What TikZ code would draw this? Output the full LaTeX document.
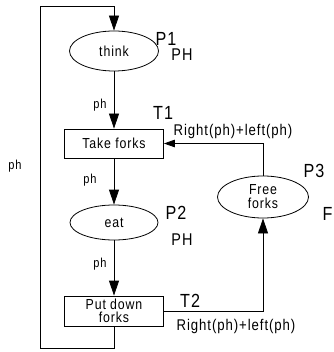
\documentclass[tikz,border=0pt]{standalone}
\usepackage{fontspec}
\setmainfont[FakeStretch=0.85,LetterSpace=6]{Liberation Sans}
\usetikzlibrary{arrows.meta,shapes.geometric}
\tikzset{
  place/.style={draw,line width=0.8pt,ellipse,inner sep=0pt,font=\fontsize{14.5}{15}\selectfont,align=center},
  trans/.style={draw,line width=0.8pt,rectangle,inner sep=0pt,minimum width=99pt,minimum height=29pt,font=\fontsize{14.5}{15}\selectfont,align=center},
  conn/.style={line width=0.8pt},
  arr/.style={conn,-{Triangle[length=15pt,width=10pt]}},
  arrs/.style={conn,-{Triangle[length=11pt,width=7.5pt]}},
  biglab/.style={inner sep=0pt,font=\fontsize{19}{20}\selectfont},
  midlab/.style={inner sep=0pt,font=\fontsize{17}{18}\selectfont},
  smalllab/.style={inner sep=0pt,font=\fontsize{13}{14}\selectfont},
  exprlab/.style={inner sep=0pt,font=\fontsize{15.5}{16}\selectfont},
}
\begin{document}
\begin{tikzpicture}[x=1pt,y=-1pt]
\useasboundingbox (0,0) rectangle (333,352);
\node[place,minimum width=89pt,minimum height=40pt] (think) at (114,51) {think};
\node[trans] (take) at (114,143.5) {Take forks};
\node[place,minimum width=88pt,minimum height=35pt] (eat) at (114,222.5) {eat};
\node[trans,minimum height=30pt] (put) at (114,311) {Put down\\[-2pt]forks};
\node[place,minimum width=91pt,minimum height=42pt] (free) at (263,197) {Free\\[-1pt]forks};
\coordinate (bl) at (40,348);
\coordinate (tl) at (40,6);
\draw[arr] (put.south) |- (bl) -- (tl) -| (think.north);
\draw[arr] (think.south) -- (take.north);
\draw[arr] (take.south) -- (eat.north);
\draw[arr] (eat.south) -- (put.north);
\draw[arr] (put.east) -| (free.south);
\draw[arrs] (free.north) |- (take.east);
\node[biglab] (p1) at (166,39) {P1};
\node[midlab] (ph1) at (182,55) {PH};
\node[smalllab] (a1) at (100,105) {ph};
\node[biglab] (t1) at (163,113) {T1};
\node[exprlab] (e1) at (233,131) {Right(ph)+left(ph)};
\node[smalllab] (a0) at (15,166) {ph};
\node[smalllab] (a2) at (90,180) {ph};
\node[biglab] (p3) at (314,171) {P3};
\node[biglab,anchor=west] (f3) at (322.5,213.5) {F};
\node[biglab] (p2) at (176,213) {P2};
\node[midlab] (ph2) at (182,240) {PH};
\node[smalllab] (a3) at (100,264) {ph};
\node[biglab] (t2) at (190,301) {T2};
\node[exprlab] (e2) at (236,326) {Right(ph)+left(ph)};
\end{tikzpicture}
\end{document}
